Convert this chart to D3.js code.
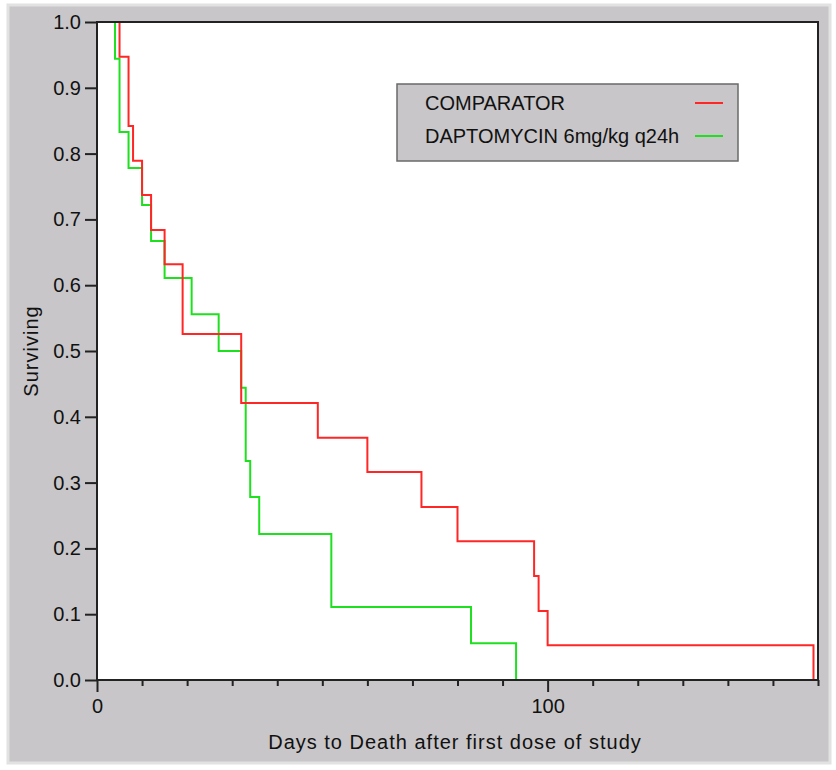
<!DOCTYPE html>
<html>
<head>
<meta charset="utf-8">
<script src="https://cdn.jsdelivr.net/npm/d3@7"></script>
<style>
  body { margin: 0; background: #fff; }
  text { font-family: "Liberation Sans", Arial, sans-serif; fill: #111; }
</style>
</head>
<body>
<svg id="chart" width="836" height="770"></svg>
<script>
// Kaplan-Meier steps: day of death and survival after it
const comparatorDays = [5, 7, 8, 10, 12, 15, 19, 32, 49, 60, 72, 80, 97, 98, 100, 159]
const comparatorSurv = [0.947, 0.842, 0.789, 0.737, 0.684, 0.632, 0.526, 0.421, 0.368, 0.316, 0.263, 0.211, 0.158, 0.105, 0.053, 0.0]

const daptoDays = [4, 5, 7, 10, 12, 15, 21, 27, 32, 33, 34, 36, 52, 83, 93]
const daptoSurv = [0.944, 0.833, 0.778, 0.722, 0.667, 0.611, 0.556, 0.5, 0.444, 0.333, 0.278, 0.222, 0.111, 0.056, 0.0]

const seriesNames = ['COMPARATOR', 'DAPTOMYCIN 6mg/kg q24h']
const seriesColors = ['#ff2626', '#1fe01f']

const yTicks = [0, 0.1, 0.2, 0.3, 0.4, 0.5, 0.6, 0.7, 0.8, 0.9, 1.0]
const xTicks = d3.range(0, 161, 10)
const xLabels = [0, 100]

const svg = d3.select('#chart')
const plot = { left: 97, top: 22, right: 818, bottom: 680 }

// gray panel behind everything
svg.append('rect')
  .attr('x', 8).attr('y', 5).attr('width', 822).attr('height', 758)
  .attr('fill', '#c8c6c8')
  .attr('stroke', '#e2e2e2').attr('stroke-width', 3)

svg.append('rect')
  .attr('x', plot.left).attr('y', plot.top)
  .attr('width', plot.right - plot.left).attr('height', plot.bottom - plot.top)
  .attr('fill', '#fff')

const x = d3.scaleLinear().domain([0, 160]).range([plot.left, plot.right])
const y = d3.scaleLinear().domain([0, 1]).range([plot.bottom, plot.top])

const line = d3.line()
  .x((d) => x(d[0]))
  .y((d) => y(d[1]))
  .curve(d3.curveStepAfter)

const curves = [
  [[0, 1]].concat(comparatorDays.map((d, i) => [d, comparatorSurv[i]])),
  [[0, 1]].concat(daptoDays.map((d, i) => [d, daptoSurv[i]])),
]

// draw green first so red sits on top where they overlap
svg.selectAll('path.km')
  .data([1, 0])
  .join('path')
  .attr('class', 'km')
  .attr('d', (i) => line(curves[i]))
  .attr('fill', 'none')
  .attr('stroke', (i) => seriesColors[i])
  .attr('stroke-width', 2)

// y axis
const yAxis = svg.append('g')
  .attr('transform', `translate(${plot.left},0)`)
  .call(d3.axisLeft(y).tickValues(yTicks).tickSize(12).tickPadding(4).tickFormat(d3.format('.1f')))
yAxis.select('.domain').remove()
yAxis.selectAll('line').attr('stroke', '#222').attr('stroke-width', 2)
yAxis.selectAll('text').attr('font-size', 20).attr('fill', '#111')

// x axis
const xAxis = svg.append('g')
  .attr('transform', `translate(0,${plot.bottom})`)
  .call(d3.axisBottom(x).tickValues(xTicks).tickSize(6)
    .tickFormat((d) => (xLabels.includes(d) ? d : '')))
xAxis.select('.domain').remove()
xAxis.selectAll('line')
  .attr('y2', (d) => (xLabels.includes(d) ? 12 : 6))
  .attr('stroke', '#222').attr('stroke-width', 2)
xAxis.selectAll('text').attr('font-size', 20).attr('y', 19).attr('fill', '#111')

// plot frame
svg.append('rect')
  .attr('x', plot.left).attr('y', plot.top)
  .attr('width', plot.right - plot.left).attr('height', plot.bottom - plot.top)
  .attr('fill', 'none').attr('stroke', '#222').attr('stroke-width', 2)

// axis titles
svg.append('text')
  .attr('x', 455).attr('y', 749)
  .attr('text-anchor', 'middle')
  .attr('font-size', 20)
  .attr('letter-spacing', 1)
  .text('Days to Death after first dose of study')

svg.append('text')
  .attr('transform', 'translate(38,351) rotate(-90)')
  .attr('text-anchor', 'middle')
  .attr('font-size', 20)
  .attr('letter-spacing', 1)
  .text('Surviving')

// legend
const legend = svg.append('g')
legend.append('rect')
  .attr('x', 397).attr('y', 84).attr('width', 341).attr('height', 77)
  .attr('fill', '#c8c6c8').attr('stroke', '#6a6a6a').attr('stroke-width', 1.5)

seriesNames.forEach((name, i) => {
  const yy = 103 + i * 33
  legend.append('text')
    .attr('x', 425).attr('y', yy + 7)
    .attr('font-size', 20)
    .text(name)
  legend.append('line')
    .attr('x1', 695).attr('x2', 723).attr('y1', yy).attr('y2', yy)
    .attr('stroke', seriesColors[i]).attr('stroke-width', 2)
})
</script>
</body>
</html>
